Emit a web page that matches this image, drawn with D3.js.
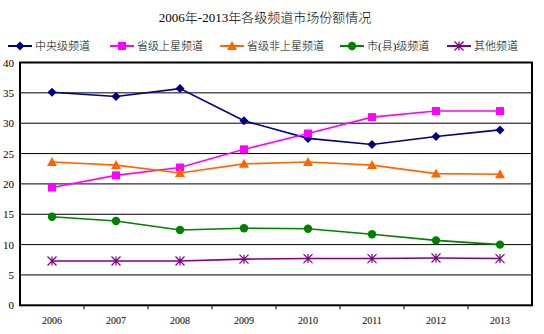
<!DOCTYPE html>
<html>
<head>
<meta charset="utf-8">
<script src="https://cdn.jsdelivr.net/npm/d3@7"></script>
<style>
  html, body { margin: 0; padding: 0; background: #fff; }
  svg { display: block; }
  text { font-family: "Liberation Serif", "Noto Sans CJK SC", serif; fill: #000; }
</style>
</head>
<body>
<svg id="chart" width="544" height="334"></svg>
<script>
// Market share (%) by channel tier, 2006–2013
const years = ["2006", "2007", "2008", "2009", "2010", "2011", "2012", "2013"];
const central     = [35.1, 34.4, 35.7, 30.4, 27.5, 26.5, 27.8, 28.9];
const provSat     = [19.4, 21.4, 22.7, 25.7, 28.3, 31.0, 32.0, 32.0];
const provNonSat  = [23.6, 23.1, 21.8, 23.3, 23.6, 23.1, 21.7, 21.6];
const cityCounty  = [14.6, 13.9, 12.4, 12.7, 12.6, 11.7, 10.7, 10.0];
const others      = [7.3, 7.3, 7.3, 7.6, 7.7, 7.7, 7.8, 7.7];
const seriesNames = ["中央级频道", "省级上星频道", "省级非上星频道", "市(县)级频道", "其他频道"];
const yTicks = [0, 5, 10, 15, 20, 25, 30, 35, 40];
const titleText = "2006年-2013年各级频道市场份额情况";

const series = [
  { name: seriesNames[0], values: central,    color: "#000080", marker: "diamond" },
  { name: seriesNames[1], values: provSat,    color: "#FF00FF", marker: "square" },
  { name: seriesNames[2], values: provNonSat, color: "#FF6600", marker: "triangle" },
  { name: seriesNames[3], values: cityCounty, color: "#008000", marker: "circle" },
  { name: seriesNames[4], values: others,     color: "#800080", marker: "star" }
];

const svg = d3.select("#chart");
const plot = { left: 20, right: 532, top: 62.5, bottom: 305.3 };

const x = d3.scaleBand().domain(years).range([plot.left, plot.right]);
const y = d3.scaleLinear().domain([0, 40]).range([plot.bottom, plot.top]);

// Title
svg.append("text")
  .attr("x", 265).attr("y", 22)
  .attr("text-anchor", "middle")
  .style("font-size", "13px")
  .style("font-weight", "300")
  .text(titleText);

// Marker shapes
function drawMarker(g, type, color, cx, cy) {
  if (type === "diamond") {
    g.append("path").attr("d", `M${cx},${cy-4.5}L${cx+4.5},${cy}L${cx},${cy+4.5}L${cx-4.5},${cy}Z`).attr("fill", color);
  } else if (type === "square") {
    g.append("rect").attr("x", cx-4).attr("y", cy-4).attr("width", 8).attr("height", 8).attr("fill", color);
  } else if (type === "triangle") {
    g.append("path").attr("d", `M${cx},${cy-5}L${cx+5},${cy+4}L${cx-5},${cy+4}Z`).attr("fill", color);
  } else if (type === "circle") {
    g.append("circle").attr("cx", cx).attr("cy", cy).attr("r", 4.2).attr("fill", color);
  } else if (type === "star") {
    const r = 4.5;
    g.append("path")
      .attr("d", `M${cx-r},${cy-r}L${cx+r},${cy+r}M${cx-r},${cy+r}L${cx+r},${cy-r}M${cx},${cy-r}L${cx},${cy+r}`)
      .attr("stroke", color).attr("stroke-width", 1.2).attr("fill", "none");
  }
}

// Legend
const legendX = [8, 110, 220, 340, 447];
series.forEach((s, i) => {
  const g = svg.append("g");
  const lx = legendX[i], ly = 46;
  g.append("line").attr("x1", lx).attr("x2", lx + 24).attr("y1", ly).attr("y2", ly)
    .attr("stroke", s.color).attr("stroke-width", 2);
  drawMarker(g, s.marker, s.color, lx + 12, ly);
  g.append("text").attr("x", lx + 27).attr("y", ly + 4)
    .style("font-size", "11px").style("font-weight", "300").text(s.name);
});

// Gridlines
svg.append("g").selectAll("line")
  .data(yTicks.filter(t => t > 0 && t < 40))
  .join("line")
  .attr("x1", plot.left).attr("x2", plot.right)
  .attr("y1", d => y(d)).attr("y2", d => y(d))
  .attr("stroke", "#000").attr("stroke-width", 1);

// Plot frame
svg.append("rect")
  .attr("x", plot.left).attr("y", plot.top)
  .attr("width", plot.right - plot.left).attr("height", plot.bottom - plot.top)
  .attr("fill", "none").attr("stroke", "#000").attr("stroke-width", 2);

// Y axis
const yAxis = svg.append("g").attr("transform", `translate(${plot.left},0)`)
  .call(d3.axisLeft(y).tickValues(yTicks).tickSize(0).tickPadding(6));
yAxis.select(".domain").remove();
yAxis.selectAll("text").style("font-size", "11px").style("font-family", "Liberation Serif, serif");

// X axis with ticks at category boundaries
const xAxis = svg.append("g").attr("transform", `translate(0,${plot.bottom})`)
  .call(d3.axisBottom(x).tickSize(0).tickPadding(12));
xAxis.select(".domain").remove();
xAxis.selectAll("text").style("font-size", "10px").style("font-family", "Liberation Serif, serif");
svg.append("g").selectAll("line")
  .data(years.slice(1))
  .join("line")
  .attr("x1", d => x(d)).attr("x2", d => x(d))
  .attr("y1", plot.bottom).attr("y2", plot.bottom + 4)
  .attr("stroke", "#000").attr("stroke-width", 1);

// Series lines and markers
const line = d3.line()
  .x((d, i) => x(years[i]) + x.bandwidth() / 2)
  .y(d => y(d));

series.forEach(s => {
  const g = svg.append("g");
  g.append("path").datum(s.values).attr("d", line)
    .attr("fill", "none").attr("stroke", s.color).attr("stroke-width", 1.6);
  s.values.forEach((v, i) => drawMarker(g, s.marker, s.color, x(years[i]) + x.bandwidth() / 2, y(v)));
});
</script>
</body>
</html>
